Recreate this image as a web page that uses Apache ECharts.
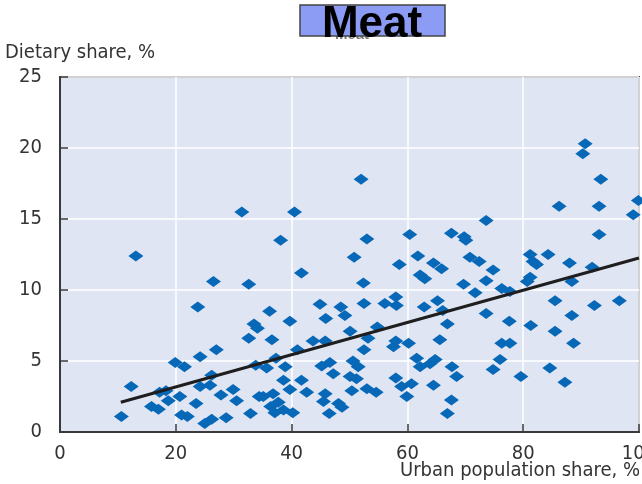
<!DOCTYPE html>
<html>
<head>
<meta charset="utf-8">
<script src="https://cdn.jsdelivr.net/npm/echarts@6/dist/echarts.min.js"></script>
<style>
  html, body { margin: 0; padding: 0; background: #ffffff; }
  #chart { width: 642px; height: 484px; }
</style>
</head>
<body>
<div id="chart"></div>
<script>
// Urban population share (%) of each country
const urbanShare = [
  10.6, 12.3, 13.1, 15.8, 17.0, 17.2, 18.3, 18.7, 19.9, 20.7,
  21.5, 21.0, 22.0, 23.8, 24.2, 23.5, 24.2, 25.9, 26.2, 25.0,
  26.2, 27.0, 27.8, 28.7, 29.9, 30.5, 26.5, 31.4, 32.6, 32.6,
  33.5, 34.1, 33.8, 32.9, 34.4, 35.7, 36.2, 36.6, 37.3, 38.9,
  38.1, 39.7, 40.5, 41.7, 41.0, 38.6, 41.7, 39.7, 42.6, 35.1,
  36.8, 37.7, 36.4, 37.1, 38.6, 40.2, 43.7, 45.8, 44.9, 45.9,
  48.5, 49.2, 50.1, 45.2, 46.6, 47.2, 45.8, 45.5, 46.5, 48.1,
  48.7, 50.6, 51.5, 50.1, 51.2, 50.4, 50.8, 52.0, 53.0, 52.4,
  52.5, 52.5, 53.2, 54.8, 56.1, 58.0, 58.1, 57.6, 58.0, 60.2,
  53.0, 54.6, 58.0, 59.0, 59.9, 58.6, 60.4, 61.8, 62.2, 63.0,
  64.5, 65.9, 67.6, 69.8, 70.1, 73.6, 70.8, 72.4, 74.8, 69.7,
  73.6, 71.7, 76.3, 77.7, 62.9, 65.2, 66.1, 73.6, 66.9, 77.6,
  81.3, 65.6, 76.3, 77.7, 61.6, 62.2, 63.9, 64.8, 67.7, 68.5,
  76.0, 74.8, 79.6, 84.6, 87.2, 60.7, 64.5, 67.6, 66.9, 81.2,
  81.7, 84.3, 82.3, 81.2, 80.7, 88.0, 91.9, 88.4, 85.5, 92.3,
  96.6, 88.4, 85.5, 88.7, 90.7, 90.3, 93.4, 86.2, 93.1, 99.9,
  99.0, 93.1
];

// Meat share of the diet (%) for the same countries
const meatShare = [
  1.1, 3.2, 12.4, 1.8, 1.6, 2.8, 2.9, 2.2, 4.9, 2.5,
  4.6, 1.2, 1.1, 8.8, 5.3, 2.0, 3.2, 3.3, 4.0, 0.6,
  0.9, 5.8, 2.6, 1.0, 3.0, 2.2, 10.6, 15.5, 10.4, 6.6,
  7.6, 7.3, 4.7, 1.3, 2.5, 4.5, 8.5, 6.5, 5.2, 4.6,
  13.5, 7.8, 15.5, 11.2, 5.8, 3.65, 3.65, 3.0, 2.8, 2.5,
  2.7, 2.1, 1.8, 1.35, 1.55, 1.35, 6.4, 6.4, 9.0, 8.0,
  8.8, 8.2, 7.1, 4.65, 4.9, 4.1, 2.7, 2.15, 1.3, 2.0,
  1.75, 5.0, 4.6, 3.9, 3.75, 2.9, 12.3, 17.8, 13.6, 10.5,
  9.05, 5.8, 6.6, 7.4, 9.05, 9.5, 8.9, 6.0, 6.4, 6.25,
  3.05, 2.8, 3.8, 3.2, 2.5, 11.8, 13.9, 12.4, 11.05, 10.8,
  11.9, 11.5, 14.0, 13.75, 13.5, 14.9, 12.3, 12.0, 11.4, 10.4,
  10.65, 9.8, 10.1, 9.9, 8.8, 9.25, 8.55, 8.35, 7.6, 7.8,
  7.5, 6.5, 6.25, 6.25, 5.2, 4.6, 4.8, 5.1, 4.6, 3.9,
  5.1, 4.4, 3.9, 4.5, 3.5, 3.4, 3.3, 2.25, 1.3, 12.5,
  12.0, 12.5, 11.8, 10.9, 10.6, 11.9, 11.6, 10.6, 9.25, 8.9,
  9.25, 8.2, 7.1, 6.25, 20.3, 19.6, 17.8, 15.9, 15.9, 16.3,
  15.3, 13.9
];

// Fitted trend line end points
const trendX = [10.5, 100];
const trendY = [2.1, 12.25];

// Axis ticks
const xTicks = [0, 20, 40, 60, 80, 100];
const yTicks = [0, 5, 10, 15, 20, 25];

const chartTitle = 'Meat';
const yAxisTitle = 'Dietary share, %';
const xAxisTitle = 'Urban population share, %';

const points = urbanShare.map((x, i) => [x, meatShare[i]]);
const trend = trendX.map((x, i) => [x, trendY[i]]);

const narrow = "'Liberation Sans Narrow', 'Arial Narrow', 'DejaVu Sans Condensed', sans-serif";

const chart = echarts.init(document.getElementById('chart'), null, { renderer: 'canvas' });

chart.setOption({
  backgroundColor: '#ffffff',
  animation: false,
  grid: {
    left: 60, top: 77, width: 579, height: 355,
    outerBoundsMode: 'none',
    containLabel: false,
    show: true,
    backgroundColor: '#dfe5f3',
    borderColor: '#4a4a4a',
    borderWidth: 2
  },
  xAxis: {
    type: 'value',
    min: xTicks[0], max: xTicks[xTicks.length - 1], interval: 20,
    axisLine: { show: true, onZero: false, lineStyle: { color: '#3a3a3a', width: 2 } },
    axisTick: { show: true, inside: true, length: 8, lineStyle: { color: '#3a3a3a', width: 1.5 } },
    splitLine: { show: true, lineStyle: { color: '#ffffff', width: 1.5 } },
    axisLabel: {
      margin: 12, color: '#333333', fontSize: 20, fontFamily: narrow,
      formatter: v => xTicks.includes(v) ? String(v) : ''
    }
  },
  yAxis: {
    type: 'value',
    min: yTicks[0], max: yTicks[yTicks.length - 1], interval: 5,
    axisLine: { show: true, onZero: false, lineStyle: { color: '#3a3a3a', width: 2 } },
    axisTick: { show: true, inside: true, length: 8, lineStyle: { color: '#3a3a3a', width: 1.5 } },
    splitLine: { show: true, lineStyle: { color: '#ffffff', width: 1.5 } },
    axisLabel: {
      margin: 18, color: '#333333', fontSize: 20, fontFamily: narrow,
      formatter: v => yTicks.includes(v) ? String(v) : ''
    }
  },
  graphic: [
    {
      type: 'text', left: 5, top: 43, z: 10,
      style: { text: yAxisTitle, fill: '#333333', font: '20px ' + narrow }
    },
    {
      type: 'text', right: 2, top: 461, z: 10,
      style: { text: xAxisTitle, fill: '#333333', font: '20px ' + narrow }
    },
    {
      type: 'text', x: 352, y: 27, z: 9,
      style: { text: chartTitle, fill: '#777777', font: 'bold 15px "Liberation Sans", Arial, sans-serif', textAlign: 'center' }
    },
    {
      type: 'rect', z: 10,
      shape: { x: 300, y: 5, width: 145, height: 31 },
      style: { fill: '#8c9cf5', stroke: '#444444', lineWidth: 1.5 }
    },
    {
      type: 'text', x: 372, y: 3, z: 11,
      style: { text: chartTitle, fill: '#000000', font: 'bold 44px "Liberation Sans", Arial, sans-serif', textAlign: 'center' }
    }
  ],
  series: [
    {
      type: 'scatter',
      data: points,
      symbol: 'diamond',
      symbolSize: [15, 11],
      itemStyle: { color: '#0868b8', opacity: 1 },
      z: 2
    },
    {
      type: 'line',
      data: trend,
      symbol: 'none',
      lineStyle: { color: '#1e1e1e', width: 3 },
      z: 3
    }
  ]
});
</script>
</body>
</html>
